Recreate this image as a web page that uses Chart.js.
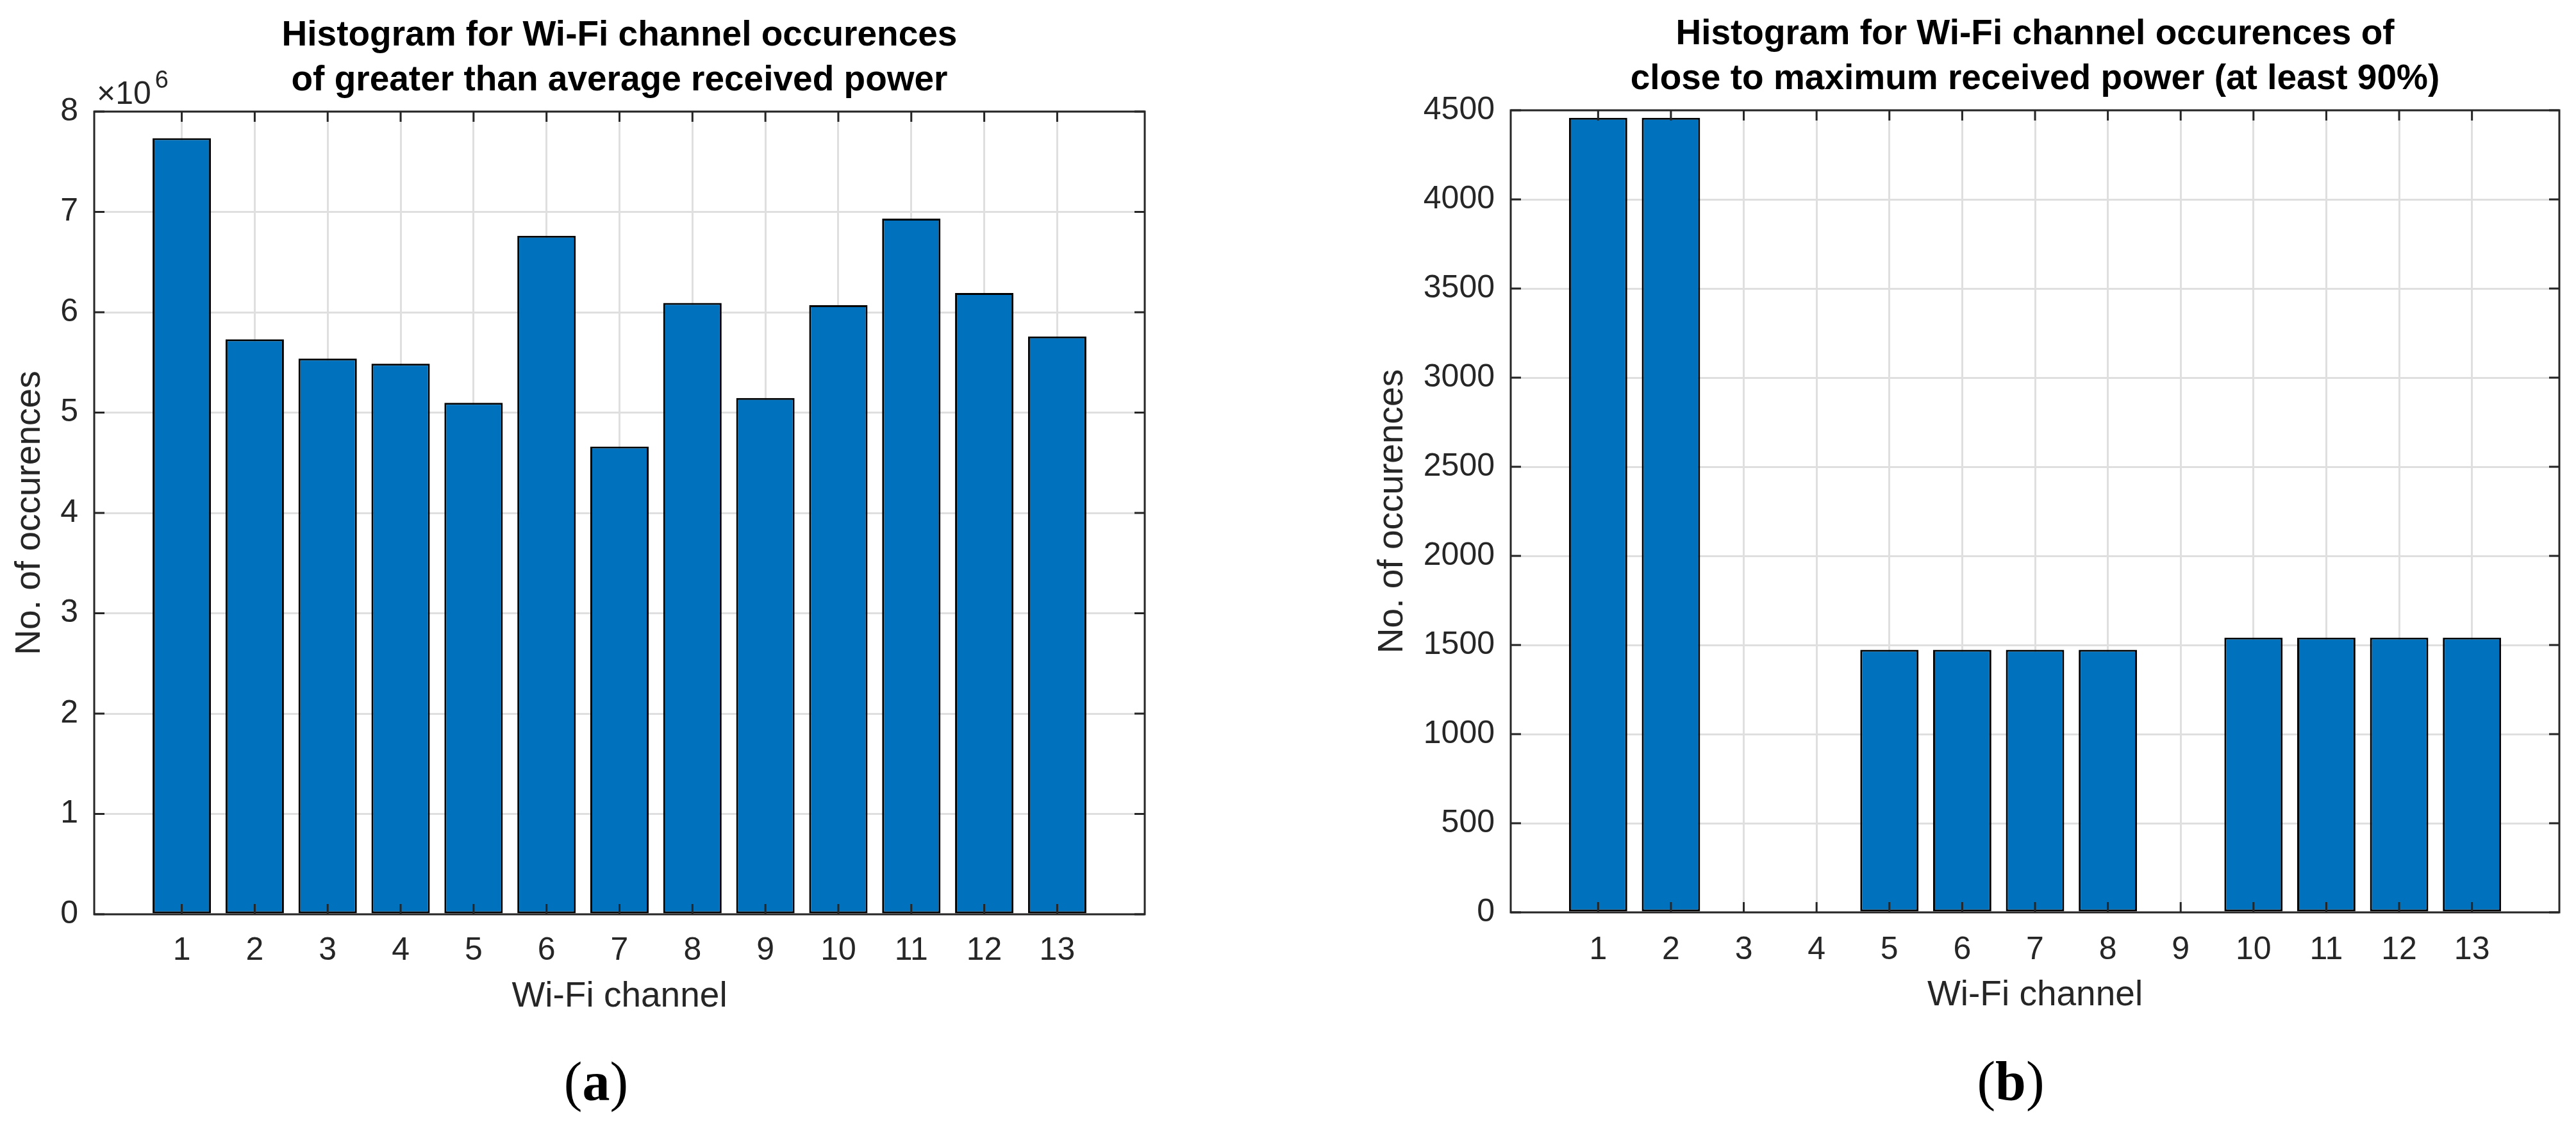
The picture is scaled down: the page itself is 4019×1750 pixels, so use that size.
<!DOCTYPE html>
<html>
<head>
<meta charset="utf-8">
<script src="https://cdn.jsdelivr.net/npm/chart.js@4.4.1/dist/chart.umd.min.js"></script>
<style>
html,body{margin:0;padding:0;background:#fff;width:4019px;height:1750px;overflow:hidden}
#wa{position:absolute;left:0;top:0;width:2000px;height:1750px}
#wb{position:absolute;left:2000px;top:0;width:2019px;height:1750px}
.cap{position:absolute;width:400px;text-align:center;font-family:"Liberation Serif","Times New Roman",serif;font-size:86px;line-height:100px;color:#000}
.cap b{font-weight:bold}
</style>
</head>
<body>
<div id="wa"><canvas id="ca" width="2000" height="1750"></canvas></div>
<div id="wb"><canvas id="cb" width="2019" height="1750"></canvas></div>
<div class="cap" style="left:730px;top:1637px">(<b>a</b>)</div>
<div class="cap" style="left:2937px;top:1636px">(<b>b</b>)</div>
<script>
// ---- data ----
const channels = [1, 2, 3, 4, 5, 6, 7, 8, 9, 10, 11, 12, 13];
// (a) occurrences of greater than average received power
const countsA = [7735000, 5730000, 5538000, 5488000, 5097000, 6762000, 4662000, 6092000, 5145000, 6070000, 6933000, 6192000, 5758000];
// (b) occurrences of close to maximum received power (at least 90%)
const countsB = [4458, 4458, 0, 0, 1473, 1473, 1473, 1473, 0, 1541, 1541, 1541, 1541];
const yTicksA = [0, 1000000, 2000000, 3000000, 4000000, 5000000, 6000000, 7000000, 8000000];
const yTicksB = [0, 500, 1000, 1500, 2000, 2500, 3000, 3500, 4000, 4500];
const titleA = ['Histogram for Wi-Fi channel occurences', 'of greater than average received power'];
const titleB = ['Histogram for Wi-Fi channel occurences of', 'close to maximum received power (at least 90%)'];
const xLabel = 'Wi-Fi channel';
const yLabel = 'No. of occurences';
const exponentA = '6';

// ---- styling ----
const FONT = '"Liberation Sans", Arial, Helvetica, sans-serif';
const AX = '#262626';
const GRID = '#dfdfdf';
const BAR = '#0072BD';

const framePlugin = {
  id: 'frame',
  afterDatasetsDraw(chart) {
    const {ctx, chartArea: {left, right, top, bottom}, scales: {x, y}} = chart;
    ctx.save();
    ctx.strokeStyle = AX;
    ctx.lineWidth = 3;
    ctx.beginPath();
    x.ticks.forEach(t => {
      const px = x.getPixelForValue(t.value);
      ctx.moveTo(px, bottom); ctx.lineTo(px, bottom - 16);
      ctx.moveTo(px, top); ctx.lineTo(px, top + 16);
    });
    y.ticks.forEach(t => {
      const py = y.getPixelForValue(t.value);
      ctx.moveTo(left, py); ctx.lineTo(left + 16, py);
      ctx.moveTo(right, py); ctx.lineTo(right - 16, py);
    });
    ctx.stroke();
    ctx.strokeRect(left, top, right - left, bottom - top);
    ctx.restore();
  }
};

const exponentPlugin = {
  id: 'exponent',
  afterDraw(chart, args, opts) {
    if (!opts || !opts.text) return;
    const {ctx, chartArea: {left, top}} = chart;
    ctx.save();
    ctx.fillStyle = AX;
    ctx.textAlign = 'left';
    ctx.textBaseline = 'alphabetic';
    ctx.font = '50px ' + FONT;
    ctx.fillText('\u00d710', left + 4, top - 12);
    const w = ctx.measureText('\u00d710').width;
    ctx.font = '38px ' + FONT;
    ctx.fillText(opts.text, left + 4 + w + 6, top - 37);
    ctx.restore();
  }
};

function makeChart(id, values, o) {
  const pts = channels.map((c, i) => ({x: c, y: values[i]}));
  return new Chart(document.getElementById(id), {
    type: 'bar',
    data: {
      datasets: [{
        data: pts,
        backgroundColor: BAR,
        borderColor: '#000',
        borderWidth: 3,
        borderSkipped: false,
        categoryPercentage: 1.0,
        barPercentage: 0.8
      }]
    },
    plugins: [framePlugin, exponentPlugin],
    options: {
      responsive: false,
      animation: false,
      devicePixelRatio: 1,
      layout: {padding: {left: 0, right: o.padRight, top: 0, bottom: 0}},
      plugins: {
        legend: {display: false},
        tooltip: {enabled: false},
        exponent: {text: o.exponent || ''},
        title: {
          display: true,
          text: o.title,
          fullSize: false,
          color: '#000',
          font: {family: FONT, size: 55, weight: 'bold', lineHeight: 70 / 55},
          padding: {top: o.titleTop, bottom: o.titleBottom}
        }
      },
      scales: {
        x: {
          type: 'linear',
          min: -0.2,
          max: 14.2,
          offset: false,
          afterFit(s) { s.height = o.xHeight; },
          afterBuildTicks(s) { s.ticks = channels.map(v => ({value: v})); },
          grid: {display: true, color: GRID, lineWidth: 3, drawTicks: false, offset: false},
          border: {display: false},
          ticks: {color: AX, font: {family: FONT, size: 50}, padding: o.xTickPad, maxRotation: 0, autoSkip: false,
                  callback: v => String(v)},
          title: {display: true, text: xLabel, color: AX, font: {family: FONT, size: 55, lineHeight: 1.2},
                  padding: {top: 0, bottom: o.xTitlePad}}
        },
        y: {
          type: 'linear',
          min: o.yTicks[0],
          max: o.yTicks[o.yTicks.length - 1],
          afterFit(s) { s.width = o.yWidth; },
          afterBuildTicks(s) { s.ticks = o.yTicks.map(v => ({value: v})); },
          grid: {display: true, color: GRID, lineWidth: 3, drawTicks: false},
          border: {display: false},
          ticks: {color: AX, font: {family: FONT, size: 50}, padding: 25, autoSkip: false,
                  callback: v => String(v / o.yDiv)},
          title: {display: true, text: yLabel, color: AX, font: {family: FONT, size: 55, lineHeight: 1.2},
                  padding: {top: o.yTitlePad, bottom: 0}}
        }
      }
    }
  });
}

makeChart('ca', countsA, {
  title: titleA, exponent: exponentA, yTicks: yTicksA, yDiv: 1000000,
  padRight: 214, titleTop: 21, titleBottom: 13, xHeight: 324, xTickPad: 27, xTitlePad: 162,
  yWidth: 147, yTitlePad: 14
});
makeChart('cb', countsB, {
  title: titleB, exponent: '', yTicks: yTicksB, yDiv: 1,
  padRight: 26, titleTop: 19, titleBottom: 13, xHeight: 327, xTickPad: 29, xTitlePad: 164,
  yWidth: 357, yTitlePad: 140
});
</script>
</body>
</html>
